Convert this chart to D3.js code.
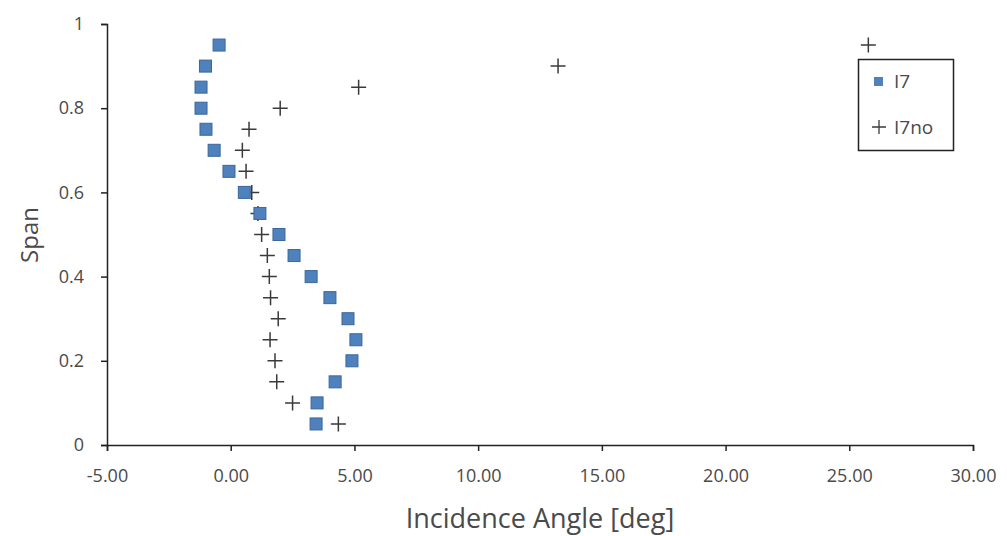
<!DOCTYPE html>
<html>
<head>
<meta charset="utf-8">
<script src="https://cdn.jsdelivr.net/npm/d3@7"></script>
<style>
  html, body { margin: 0; padding: 0; background: #fff; }
  #viz svg { display: block; }
</style>
</head>
<body>
<div id="viz"></div>
<script>
// Series.
const SPAN = [0.95, 0.9, 0.85, 0.8, 0.75, 0.7, 0.65, 0.6, 0.55, 0.5, 0.45, 0.4, 0.35, 0.3, 0.25, 0.2, 0.15, 0.1, 0.05];
const I7 = [-0.47, -1.02, -1.2, -1.2, -1.0, -0.67, -0.07, 0.55, 1.18, 1.95, 2.56, 3.25, 4.01, 4.74, 5.06, 4.9, 4.22, 3.49, 3.45];
const I7NO = [25.77, 13.23, 5.17, 2.0, 0.74, 0.47, 0.62, 0.85, 1.1, 1.25, 1.48, 1.56, 1.61, 1.92, 1.59, 1.79, 1.86, 2.5, 4.35];
const X_TICKS = [-5, 0, 5, 10, 15, 20, 25, 30];
const Y_TICKS = [0, 0.2, 0.4, 0.6, 0.8, 1];
const SERIES_NAMES = ['I7', 'I7no'];

const W = 1007;
const H = 536;
const M = { top: 24, right: 34, bottom: 91, left: 107 };
const FONT = '"Open Sans", "Liberation Sans", sans-serif';
const TEXT = '#4a4a4a';

function render() {
  const svg = d3.select('#viz')
    .append('svg')
    .attr('width', W)
    .attr('height', H);

  const x = d3.scaleLinear().domain([-5, 30]).range([M.left, W - M.right]);
  const y = d3.scaleLinear().domain([0, 1]).range([H - M.bottom, M.top]);

  // axes
  const xAxis = svg.append('g')
    .attr('transform', `translate(0,${y(0)})`)
    .call(d3.axisBottom(x).tickValues(X_TICKS).tickSize(6).tickPadding(18).tickFormat((d) => d.toFixed(2)));
  const yAxis = svg.append('g')
    .attr('transform', `translate(${x(-5)},0)`)
    .call(d3.axisLeft(y).tickValues(Y_TICKS).tickSize(6).tickPadding(17).tickFormat((d) => String(d)));

  [xAxis, yAxis].forEach((g) => {
    g.select('.domain').attr('stroke', '#222').attr('stroke-width', 1.5);
    g.selectAll('.tick line').attr('stroke', '#222').attr('stroke-width', 1.5);
    g.selectAll('.tick text')
      .attr('fill', TEXT)
      .attr('font-family', FONT)
      .attr('font-size', 18);
  });

  // axis titles
  svg.append('text')
    .attr('x', 540)
    .attr('y', 528)
    .attr('text-anchor', 'middle')
    .attr('font-family', FONT)
    .attr('font-size', 27)
    .attr('fill', TEXT)
    .text('Incidence Angle [deg]');

  svg.append('text')
    .attr('transform', 'translate(38,235) rotate(-90)')
    .attr('text-anchor', 'middle')
    .attr('font-family', FONT)
    .attr('font-size', 24)
    .attr('fill', TEXT)
    .text('Span');

  const sq = 12;
  const crossArm = 7.5;

  // I7no: crosses (drawn first, squares sit over them)
  svg.append('g')
    .selectAll('path')
    .data(SPAN.map((s, i) => ({ s, v: I7NO[i] })))
    .join('path')
    .attr('d', (d) => crossPath(x(d.v), y(d.s), crossArm))
    .attr('stroke', '#3a3a3a')
    .attr('stroke-width', 1.5)
    .attr('fill', 'none');

  // I7: blue squares
  svg.append('g')
    .selectAll('rect')
    .data(SPAN.map((s, i) => ({ s, v: I7[i] })))
    .join('rect')
    .attr('x', (d) => x(d.v) - sq / 2)
    .attr('y', (d) => y(d.s) - sq / 2)
    .attr('width', sq)
    .attr('height', sq)
    .attr('fill', '#4f81bd')
    .attr('stroke', '#3b679c')
    .attr('stroke-width', 1);

  // legend
  const lg = svg.append('g');
  lg.append('rect')
    .attr('x', 858.5)
    .attr('y', 59.5)
    .attr('width', 95)
    .attr('height', 91)
    .attr('fill', '#fff')
    .attr('stroke', '#222')
    .attr('stroke-width', 1.5);
  lg.append('rect')
    .attr('x', 874)
    .attr('y', 77)
    .attr('width', 9)
    .attr('height', 9)
    .attr('fill', '#4f81bd');
  lg.append('path')
    .attr('d', crossPath(879, 127, 7))
    .attr('stroke', '#3a3a3a')
    .attr('stroke-width', 1.3);
  lg.selectAll('text')
    .data(SERIES_NAMES)
    .join('text')
    .attr('x', 894)
    .attr('y', (d, i) => (i === 0 ? 88 : 134))
    .attr('font-family', FONT)
    .attr('font-size', 19)
    .attr('fill', TEXT)
    .text((d) => d);
}

function crossPath(cx, cy, r) {
  return `M${cx - r},${cy}H${cx + r}M${cx},${cy - r}V${cy + r}`;
}

render();
</script>
</body>
</html>
